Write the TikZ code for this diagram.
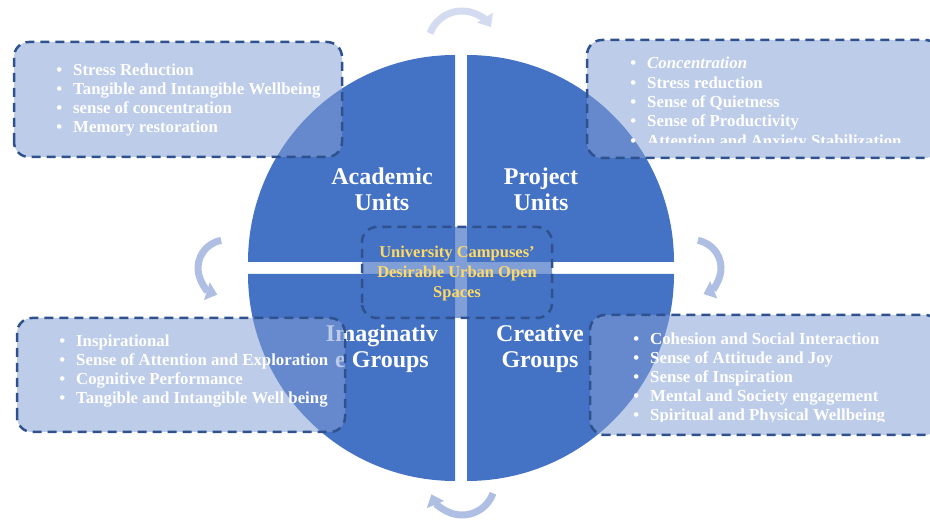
\documentclass[tikz,border=0pt]{standalone}
\usepackage{fontspec}
\setmainfont{Liberation Serif}
\usetikzlibrary{arrows.meta}

\definecolor{wheelblue}{RGB}{68,114,196}
\definecolor{rimblue}{RGB}{47,82,143}
\definecolor{paneblue}{RGB}{131,158,212}
\definecolor{hubgold}{RGB}{255,217,102}
\definecolor{cycleblue}{RGB}{175,190,227}
\definecolor{cyclepale}{RGB}{211,219,240}

\begin{document}
\begin{tikzpicture}[x=1pt,y=1pt,
  quarter/.style={fill=wheelblue},
  unit/.style={text=white,align=center,font=\fontsize{24}{26}\selectfont\bfseries},
  panel/.style={fill=paneblue,fill opacity=0.53,draw=rimblue,line width=2.5pt,
    dash pattern=on 9pt off 6pt,rounded corners=15pt},
  hub/.style={panel,fill=wheelblue,fill opacity=0.68},
  item/.style={anchor=base west,inner sep=0pt,text=white,
    font=\fontsize{16.8}{19}\selectfont\bfseries,
    execute at begin node={\llap{\textbullet\hspace{11pt}}}},
  core/.style={text=hubgold,align=center,font=\fontsize{16.5}{20}\selectfont\bfseries},
  cyc/.style={color=cycleblue,line width=7pt,-{Triangle[width=18pt,length=11pt]}}]
  \useasboundingbox (0,0) rectangle (930,522);

  % the wheel, four quarters
  \fill[quarter] (455,260) -- ++(0,207) arc[start angle=90,end angle=180,radius=207] -- cycle;
  \fill[quarter] (467,260) -- ++(0,207) arc[start angle=90,end angle=0,radius=207] -- cycle;
  \fill[quarter] (455,248) -- ++(0,-207) arc[start angle=270,end angle=180,radius=207] -- cycle;
  \fill[quarter] (467,248) -- ++(0,-207) arc[start angle=270,end angle=360,radius=207] -- cycle;

  \node[unit] (academic) at (382,333) {Academic\\Units};
  \node[unit] (project) at (541,333) {Project\\Units};
  \node[unit] (imagine) at (382,173) {Imaginativ\\e Groups};
  \node[unit] (creative) at (540,173) {Creative\\Groups};

  % outcome panels
  \draw[panel] (14,365) rectangle (342,480);
  \draw[panel] (587,364) rectangle (940,482);
  \draw[panel] (17,90) rectangle (345,204);
  \draw[panel] (590,87) rectangle (940,207);

  \foreach \txt [count=\i] in {Stress Reduction, Tangible and Intangible Wellbeing,
      sense of concentration, Memory restoration}
    \node[item] (acad\i) at (73,465-19*\i) {\txt};

  \begin{scope}
    \clip (580,379.5) rectangle (940,482);
    \foreach \txt [count=\i] in {{\textit{Concentration}}, Stress reduction,
        Sense of Quietness, Sense of Productivity, Attention and Anxiety Stabilization}
      \node[item] (proj\i) at (647,472.3-19.3*\i) {\txt};
  \end{scope}

  \foreach \txt [count=\i] in {Inspirational, Sense of Attention and Exploration,
      Cognitive Performance, Tangible and Intangible Well being}
    \node[item] (imag\i) at (76,194-19*\i) {\txt};

  \begin{scope}
    \clip (580,100.5) rectangle (940,207);
    \foreach \txt [count=\i] in {Cohesion and Social Interaction, Sense of Attitude and Joy,
        Sense of Inspiration, Mental and Society engagement, Spiritual and Physical Wellbeing}
      \node[item] (crea\i) at (650,196-19*\i) {\txt};
  \end{scope}

  % centre
  \draw[hub] (362,204) rectangle (552,295);
  \node[core] (campus) at (457,248) {University Campuses'\\Desirable Urban Open\\Spaces};

  % cycle arrows
  \coordinate (ctop) at (462,477);
  \coordinate (cright) at (693,254);
  \coordinate (cbottom) at (462,40);
  \coordinate (cleft) at (226,254);
  \draw[cyc,color=cyclepale] (ctop) ++(160:34) arc[start angle=160,end angle=32,radius=34];
  \draw[cyc] (cright) ++(80:28) arc[start angle=80,end angle=-68,radius=28];
  \draw[cyc] (cbottom) ++(-20:33) arc[start angle=-20,end angle=-158,radius=33];
  \draw[cyc] (cleft) ++(100:28) arc[start angle=100,end angle=252,radius=28];
\end{tikzpicture}
\end{document}
